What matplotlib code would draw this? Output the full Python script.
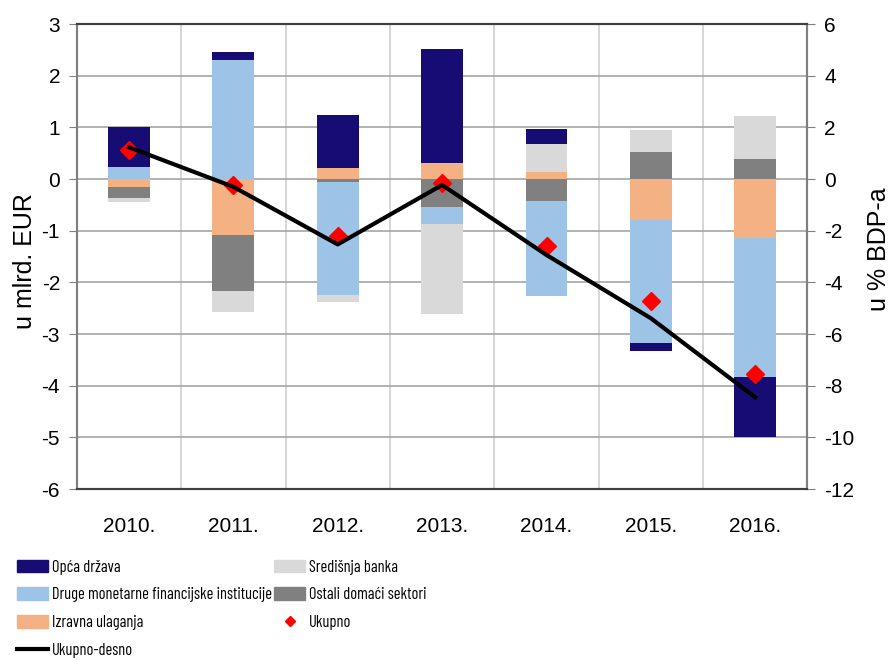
import numpy as np
import matplotlib
matplotlib.use("Agg")
import matplotlib.pyplot as plt
import matplotlib.patches as mpatches
from matplotlib.lines import Line2D

plt.rcParams['font.family'] = ['Liberation Sans', 'DejaVu Sans']
plt.rcParams['axes.unicode_minus'] = False

years = ['2010.', '2011.', '2012.', '2013.', '2014.', '2015.', '2016.']

# values in mlrd. EUR (left axis)
opca_drzava = [0.76, 0.15, 1.03, 2.20, 0.30, -0.14, -1.15]
druge_mfi = [0.24, 2.30, -2.19, -0.33, -1.83, -2.38, -2.70]
izravna_ulaganja = [-0.15, -1.08, 0.21, 0.32, 0.135, -0.80, -1.14]
sredisnja_banka = [-0.08, -0.40, -0.13, -1.75, 0.54, 0.42, 0.83]
ostali_sektori = [-0.22, -1.09, -0.06, -0.54, -0.43, 0.52, 0.39]
ukupno = [0.56, -0.12, -1.10, -0.08, -1.29, -2.37, -3.77]
# % of GDP (right axis)
ukupno_desno = [1.23, -0.30, -2.53, -0.23, -2.94, -5.39, -8.45]

c_opca = '#170c73'
c_druge = '#9dc3e6'
c_izravna = '#f4b183'
c_sred = '#d9d9d9'
c_ostali = '#808080'

fig = plt.figure(figsize=(8.9, 6.6), dpi=100)
ax = fig.add_axes([0.0862, 0.259, 0.8211, 0.7046])
ax2 = ax.twinx()

x = np.arange(len(years))
width = 0.4

# stacking order from zero outward (as in the original)
stack = [
    (izravna_ulaganja, c_izravna),
    (ostali_sektori, c_ostali),
    (druge_mfi, c_druge),
    (sredisnja_banka, c_sred),
    (opca_drzava, c_opca),
]
pos_bottom = np.zeros(len(years))
neg_bottom = np.zeros(len(years))
for vals, col in stack:
    vals = np.array(vals)
    bottoms = np.where(vals >= 0, pos_bottom, neg_bottom)
    ax.bar(x, vals, width, bottom=bottoms, color=col, zorder=3)
    pos_bottom = pos_bottom + np.where(vals >= 0, vals, 0)
    neg_bottom = neg_bottom + np.where(vals < 0, vals, 0)

ax.plot(x, ukupno, linestyle='none', marker='D', color='#ff0000',
        markersize=9, zorder=6)

ax2.plot(x, ukupno_desno, color='black', linewidth=3, zorder=5)

# axes ranges and ticks
ax.set_xlim(-0.5, 6.5)
ax.set_ylim(-6, 3)
ax2.set_ylim(-12, 6)
ax.set_yticks(np.arange(-6, 4, 1))
ax2.set_yticks(np.arange(-12, 7, 2))
ax.set_xticks(x)
ax.set_xticklabels(years)
ax.set_xticks(np.arange(-0.5, 7, 1), minor=True)

ax.grid(axis='y', color='#a6a6a6', linewidth=1.2, zorder=0)
ax.grid(axis='x', which='minor', color='#cfcfcf', linewidth=1.2, zorder=0)
ax.set_axisbelow(True)

ax.tick_params(axis='x', which='both', length=0, labelsize=15, pad=20)
ax.tick_params(axis='y', length=6, color='#808080', labelsize=15, pad=6)
ax2.tick_params(axis='y', length=6, color='#808080', labelsize=15, pad=6)

for a in (ax, ax2):
    a.spines['left'].set_color('#808080')
    a.spines['right'].set_color('#808080')
    a.spines['top'].set_color('#404040')
    a.spines['bottom'].set_color('#404040')
    for s in a.spines.values():
        s.set_linewidth(1.5)

ax.set_ylabel('u mlrd. EUR', fontsize=18)
ax.yaxis.set_label_coords(-0.054, 0.49)
ax2.set_ylabel('u % BDP-a', fontsize=18)
ax2.yaxis.set_label_coords(1.081, 0.515)

# legend below the chart, two blocks
narrow = ['Barlow Condensed', 'Archivo Narrow', 'Liberation Sans']
leg_kw = dict(loc='upper left', frameon=False,
              prop={'family': narrow, 'size': 11.8},
              handlelength=1.9, handleheight=0.8, handletextpad=0.25,
              labelspacing=0.78, borderaxespad=0, borderpad=0)

left_handles = [
    mpatches.Patch(color=c_opca, label='Opća država'),
    mpatches.Patch(color=c_druge, label='Druge monetarne financijske institucije'),
    mpatches.Patch(color=c_izravna, label='Izravna ulaganja'),
    Line2D([], [], color='black', linewidth=3, label='Ukupno-desno'),
]
right_handles = [
    mpatches.Patch(color=c_sred, label='Središnja banka'),
    mpatches.Patch(color=c_ostali, label='Ostali domaći sektori'),
    Line2D([], [], linestyle='none', marker='D', color='#ff0000',
           markersize=5, label='Ukupno'),
]
fig.legend(handles=left_handles, bbox_to_anchor=(0.019, 0.152), **leg_kw)
fig.legend(handles=right_handles, bbox_to_anchor=(0.308, 0.152), **leg_kw)

fig.savefig('out.png', dpi=100)
